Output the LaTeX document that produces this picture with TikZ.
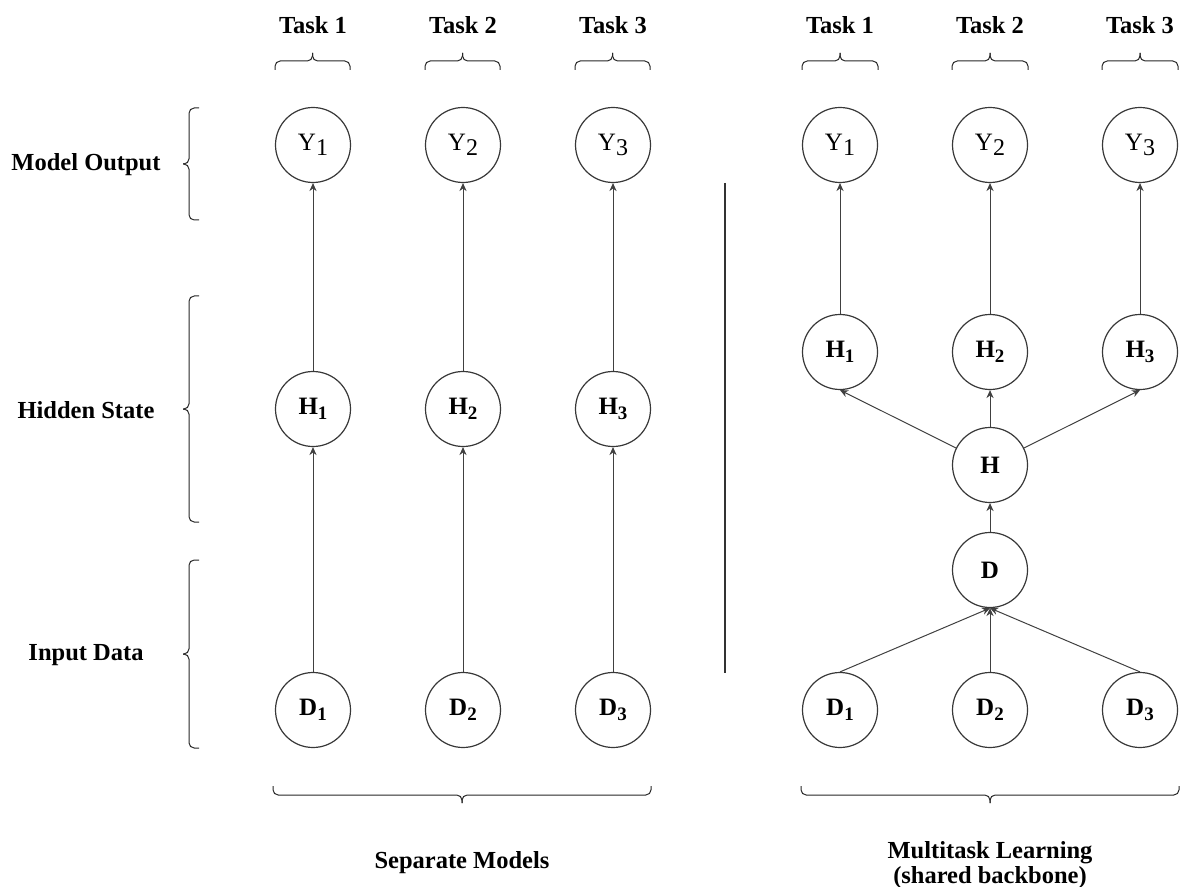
\documentclass[tikz,border=0pt]{standalone}
\usepackage{fontspec}
\setmainfont{Liberation Serif}
\usetikzlibrary{arrows.meta}
% lowered subscripts for the unit labels
\newcommand{\ysub}[1]{\raisebox{-2.8pt}{\fontsize{12}{14}\selectfont #1}}
\newcommand{\bsub}[1]{\raisebox{-2.6pt}{\fontsize{9.5}{11}\selectfont\bfseries #1}}
% square-ish curly brackets: horizontal {x1}{x2}{ends}{bar}{tip}, vertical {y1}{y2}{ends}{bar}{tip}
\newcommand{\hbrack}[5]{%
  \draw[grp] (#1,#3) -- (#1,#4) -- ({(#1+#2)/2},#4) -- ({(#1+#2)/2},#5);
  \draw[grp] (#2,#3) -- (#2,#4) -- ({(#1+#2)/2},#4) -- ({(#1+#2)/2},#5);}
\newcommand{\vbrack}[5]{%
  \draw[grp] (#3,#1) -- (#4,#1) -- (#4,{(#1+#2)/2}) -- (#5,{(#1+#2)/2});
  \draw[grp] (#3,#2) -- (#4,#2) -- (#4,{(#1+#2)/2}) -- (#5,{(#1+#2)/2});}
\begin{document}
\begin{tikzpicture}[x=0.5pt,y=-0.5pt,
  unit/.style={circle,draw=black!78,line width=0.6pt,minimum size=37.5pt,inner sep=0pt},
  outunit/.style={unit,font=\fontsize{12.5}{14}\selectfont},
  boldunit/.style={unit,font=\bfseries\fontsize{12.5}{14}\selectfont},
  flow/.style={draw=black!75,line width=0.5pt,-{Stealth[length=4pt,width=3.6pt]}},
  hdr/.style={font=\bfseries\fontsize{12.25}{12.5}\selectfont,align=center},
  grp/.style={draw=black!85,line width=0.5pt,rounded corners=2.6pt},
]
\useasboundingbox (0,0) rectangle (1181,887);

% ---------- separate models ----------
\foreach \i/\x in {1/313,2/463,3/613}{
  \node[outunit]  (sy\i) at (\x,145) {Y\ysub{\i}};
  \node[boldunit] (sh\i) at (\x,409) {H\bsub{\i}};
  \node[boldunit] (sd\i) at (\x,710) {D\bsub{\i}};
  \node[hdr] (st\i) at (\x,25) {Task \i};
  \hbrack{\x-38}{\x+37}{70}{61}{53}
  \draw[flow] (sd\i) -- (sh\i);
  \draw[flow] (sh\i) -- (sy\i);
}

% ---------- multitask model ----------
\foreach \i/\x in {1/840,2/990,3/1140}{
  \node[outunit]  (my\i) at (\x,145) {Y\ysub{\i}};
  \node[boldunit] (mh\i) at (\x,352) {H\bsub{\i}};
  \node[boldunit] (md\i) at (\x,710) {D\bsub{\i}};
  \node[hdr] (mt\i) at (\x,25) {Task \i};
  \hbrack{\x-38}{\x+38}{70}{61}{53}
  \draw[flow] (mh\i) -- (my\i);
}
\node[boldunit] (mh) at (990,465) {H};
\node[boldunit] (md) at (990,570) {D};
\draw[flow] (md) -- (mh);
\foreach \i in {1,2,3}{
  \draw[flow] (mh) -- (mh\i.south);
  \draw[flow] (md\i.north) -- (md.south);
}

% ---------- divider ----------
\coordinate (divtop) at (725,183);
\coordinate (divbot) at (725,673);
\draw[black!80,line width=1pt] (divtop) -- (divbot);

% ---------- row labels ----------
\node[hdr] (rowy) at (86,165) {Model Output};
\node[hdr] (rowh) at (86,410) {Hidden State};
\node[hdr] (rowd) at (86,655) {Input Data};
\vbrack{108}{220}{199}{189}{183}
\vbrack{296}{522}{199}{189}{183}
\vbrack{560}{748}{199}{189}{183}

% ---------- group labels ----------
\hbrack{273}{651}{786}{795}{803}
\hbrack{801}{1179}{786}{795}{803}
\node[hdr] (gsep) at (462,863) {Separate Models};
\node[hdr] (gmtl) at (990,865) {Multitask Learning\\(shared backbone)};
\end{tikzpicture}
\end{document}
